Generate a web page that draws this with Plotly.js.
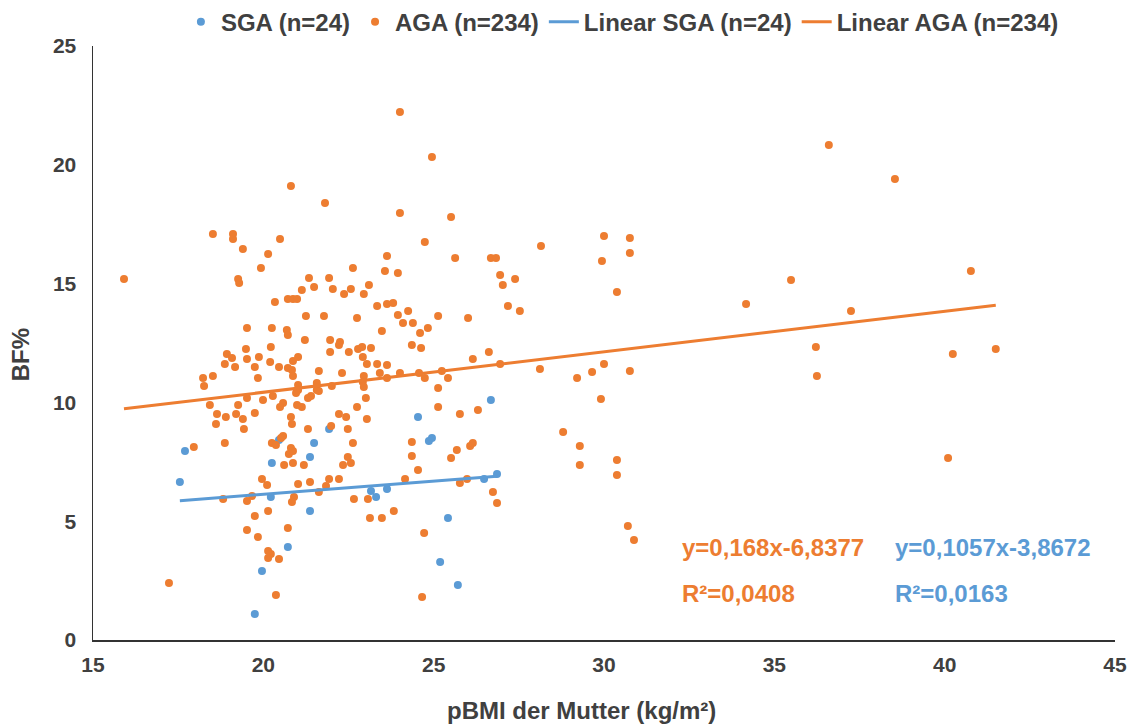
<!DOCTYPE html>
<html>
<head>
<meta charset="utf-8">
<script src="https://cdn.plot.ly/plotly-3.0.1.min.js"></script>
<style>html,body{margin:0;padding:0;background:#fff;}#chart{width:1127px;height:727px;}</style>
</head>
<body>
<div id="chart"></div>
<script>
// SGA points (pBMI, BF%)
const sgaX = [17.70,17.55,20.46,21.49,21.37,20.25,20.22,21.37,20.72,19.96,19.75,21.93,24.54,26.68,24.86,24.95,23.16,23.31,23.63,25.42,25.19,25.71,26.48,26.86];
const sgaY = [7.95,6.65,8.42,8.29,7.70,7.45,6.02,5.43,3.91,2.90,1.09,8.88,9.39,10.10,8.38,8.50,6.27,6.02,6.36,5.13,3.28,2.31,6.78,6.99];

// AGA points (pBMI, BF%)
const agaX = [
18.52,19.11,19.11,19.40,15.91,19.26,19.29,19.52,19.49,19.52,18.93,19.08,18.87,19.17,18.23,18.52,18.26,18.43,18.64,18.90,19.20,19.26,19.40,18.61,19.43,18.87,17.96,19.52,18.82,19.52,19.52,17.23,
20.81,21.81,20.49,20.14,19.93,22.63,23.63,23.57,21.34,21.93,
24.01,24.95,24.01,25.51,24.74,25.63,26.68,26.83,26.95,27.39,23.95,
21.49,22.04,21.13,23.10,22.57,22.37,22.95,20.72,20.87,20.99,20.34,23.34,23.63,21.25,21.78,22.75,20.25,20.69,20.72,23.48,
21.22,21.96,22.25,22.22,22.51,22.78,22.90,23.16,21.96,20.22,19.87,20.20,20.46,20.87,21.02,19.75,20.72,20.84,20.87,21.63,
22.31,22.92,23.04,23.34,23.63,23.42,19.84,22.95,22.92,22.95,23.63,21.02,21.02,21.57,21.57,22.01,20.28,19.99,20.96,21.40,
21.31,21.63,20.58,20.49,20.99,21.13,23.01,22.75,19.75,20.81,20.84,22.22,22.43,21.31,21.99,22.48,23.04,20.58,20.52,20.25,
20.37,20.81,22.63,
27.03,23.81,23.95,24.10,24.25,24.39,25.13,26.01,27.18,27.53,24.60,24.83,24.36,24.63,26.62,26.15,24.01,24.57,24.74,25.24,
25.42,26.95,25.13,25.13,25.77,26.30,24.36,26.07,26.15,25.68,
24.36,24.54,24.16,25.51,25.77,25.98,26.74,26.86,23.48,23.83,24.72,24.66,
20.75,20.87,20.61,20.87,21.19,22.34,22.48,22.57,19.96,20.11,21.02,21.37,21.93,21.84,22.22,21.63,19.67,20.90,20.84,22.66,
23.07,20.14,19.75,23.13,20.72,19.84,20.14,20.22,20.14,20.46,20.37,
28.15,30.00,30.76,29.94,30.76,30.38,34.17,35.49,36.22,36.25,28.12,29.21,29.65,30.00,30.76,29.91,28.80,29.29,29.29,30.38,
30.38,30.70,30.88,36.60,38.54,40.77,37.25,40.24,41.50,40.10
];
const agaY = [
17.09,17.09,16.88,16.46,15.19,15.19,15.03,13.13,12.25,11.83,12.04,11.87,11.62,11.49,11.03,11.11,10.69,9.89,9.51,9.39,9.51,9.89,9.30,9.09,8.88,8.29,8.12,10.19,5.93,5.85,4.63,2.40,
19.11,18.39,16.88,16.25,15.66,15.66,16.16,15.53,15.24,15.24,
22.22,20.33,17.97,17.80,16.75,16.08,16.08,16.08,15.36,15.19,15.45,
14.86,14.77,14.73,14.94,14.77,14.56,14.56,14.35,14.35,14.35,14.23,14.06,14.14,13.64,13.64,13.55,13.13,13.05,12.84,13.01,
12.63,12.63,12.54,12.42,12.12,12.25,12.33,12.29,12.12,12.33,11.91,11.70,11.49,11.74,11.91,11.49,11.45,11.36,11.11,11.32,
11.24,11.91,11.62,11.62,11.57,11.24,11.03,11.11,10.86,10.65,11.03,10.73,10.52,10.82,10.52,10.69,10.27,10.10,10.40,10.27,
10.19,10.48,9.97,9.81,9.89,9.81,10.19,9.81,9.55,9.39,9.09,9.51,9.39,8.88,9.01,8.88,9.30,8.59,8.50,8.29,
8.21,8.08,8.29,
14.94,14.18,13.68,13.34,13.85,13.34,13.64,13.55,14.06,13.85,12.92,13.13,12.42,12.29,12.12,11.83,11.24,11.24,11.03,11.32,
11.03,11.62,10.61,9.81,9.51,9.68,8.33,8.16,8.29,8.00,
7.74,7.15,6.78,7.66,6.61,6.78,6.23,5.77,5.13,5.43,4.50,1.81,
7.83,7.95,7.37,7.45,7.37,7.37,7.70,7.45,6.78,6.52,6.57,6.65,6.78,6.48,6.78,6.23,6.06,6.02,5.81,5.93,
5.93,5.43,5.22,5.13,4.71,4.34,3.75,3.62,3.45,3.41,1.89,
16.58,17.00,16.92,15.95,16.29,14.65,14.14,15.15,12.33,11.11,11.41,11.03,11.28,11.62,11.32,10.14,8.75,8.16,7.37,7.58,
6.94,4.80,4.21,20.83,19.40,15.53,13.85,12.04,12.25,7.66
];

const xTicks = [15,20,25,30,35,40,45];
const yTicks = [0,5,10,15,20,25];
const seriesNames = ['SGA (n=24)','AGA (n=234)','Linear SGA (n=24)','Linear AGA (n=234)'];
const eqTexts = ['y=0,168x-6,8377','R²=0,0408','y=0,1057x-3,8672','R²=0,0163'];
const xTitle = 'pBMI der Mutter (kg/m²)';
const yTitle = 'BF%';

const BLUE = '#5B9BD5', ORANGE = '#ED7D31';

function fit(xs, ys){
  const n = xs.length;
  let sx=0, sy=0, sxx=0, sxy=0;
  for(let i=0;i<n;i++){ sx+=xs[i]; sy+=ys[i]; sxx+=xs[i]*xs[i]; sxy+=xs[i]*ys[i]; }
  const b = (n*sxy - sx*sy)/(n*sxx - sx*sx);
  const a = (sy - b*sx)/n;
  const x0 = Math.min(...xs), x1 = Math.max(...xs);
  return {x:[x0,x1], y:[a+b*x0, a+b*x1]};
}
const fS = fit(sgaX, sgaY), fA = fit(agaX, agaY);

const FONT = 'Liberation Sans, Arial, sans-serif';
const TXT = '#404040';
const traces = [
  {x:sgaX, y:sgaY, mode:'markers', type:'scatter', name:seriesNames[0], marker:{color:BLUE, size:8}},
  {x:agaX, y:agaY, mode:'markers', type:'scatter', name:seriesNames[1], marker:{color:ORANGE, size:8}},
  {x:fS.x, y:fS.y, mode:'lines', type:'scatter', name:seriesNames[2], line:{color:BLUE, width:3}},
  {x:fA.x, y:fA.y, mode:'lines', type:'scatter', name:seriesNames[3], line:{color:ORANGE, width:3}}
];

const layout = {
  width:1127, height:727,
  margin:{l:93, r:12, t:46, b:87, autoexpand:false},
  paper_bgcolor:'#fff', plot_bgcolor:'#fff',
  font:{family:FONT, size:16, color:TXT, weight:'bold'},
  showlegend:true,
  legend:{orientation:'h', x:0.518, xanchor:'center', y:1.04, yanchor:'middle',
          font:{family:FONT, size:24, color:TXT, weight:'bold'}, itemwidth:30},
  xaxis:{range:[15,45], tickvals:xTicks, ticktext:xTicks.map(String), showgrid:false, zeroline:false,
         showline:true, linecolor:'#333', linewidth:1.5, ticks:'', ticklabelstandoff:5, ticklabeloverflow:'allow',
         tickfont:{family:FONT, size:21, color:TXT, weight:'bold'}},
  yaxis:{range:[0,25], tickvals:yTicks, ticktext:yTicks.map(String), showgrid:false, zeroline:false,
         showline:true, linecolor:'#333', linewidth:1.5, ticks:'', ticklabelstandoff:11,
         tickfont:{family:FONT, size:21, color:TXT, weight:'bold'}},
  annotations:[
    {xref:'paper', yref:'paper', x:0.4775, y:-0.1195, xanchor:'center', yanchor:'middle', showarrow:false, text:xTitle, font:{family:FONT, size:24, color:TXT, weight:'bold'}},
    {xref:'paper', yref:'paper', x:-0.071, y:0.48, xanchor:'center', yanchor:'middle', textangle:-90, showarrow:false, text:yTitle, font:{family:FONT, size:24, color:TXT, weight:'bold'}},
    {xref:'paper', yref:'paper', x:0.574, y:0.155, xanchor:'left', yanchor:'middle', showarrow:false, text:eqTexts[0], font:{family:FONT, size:24, color:ORANGE, weight:'bold'}},
    {xref:'paper', yref:'paper', x:0.574, y:0.079, xanchor:'left', yanchor:'middle', showarrow:false, text:eqTexts[1], font:{family:FONT, size:24, color:ORANGE, weight:'bold'}},
    {xref:'paper', yref:'paper', x:0.783, y:0.155, xanchor:'left', yanchor:'middle', showarrow:false, text:eqTexts[2], font:{family:FONT, size:24, color:BLUE, weight:'bold'}},
    {xref:'paper', yref:'paper', x:0.783, y:0.079, xanchor:'left', yanchor:'middle', showarrow:false, text:eqTexts[3], font:{family:FONT, size:24, color:BLUE, weight:'bold'}}
  ]
};
Plotly.newPlot('chart', traces, layout, {displayModeBar:false, staticPlot:true});
</script>
</body>
</html>
